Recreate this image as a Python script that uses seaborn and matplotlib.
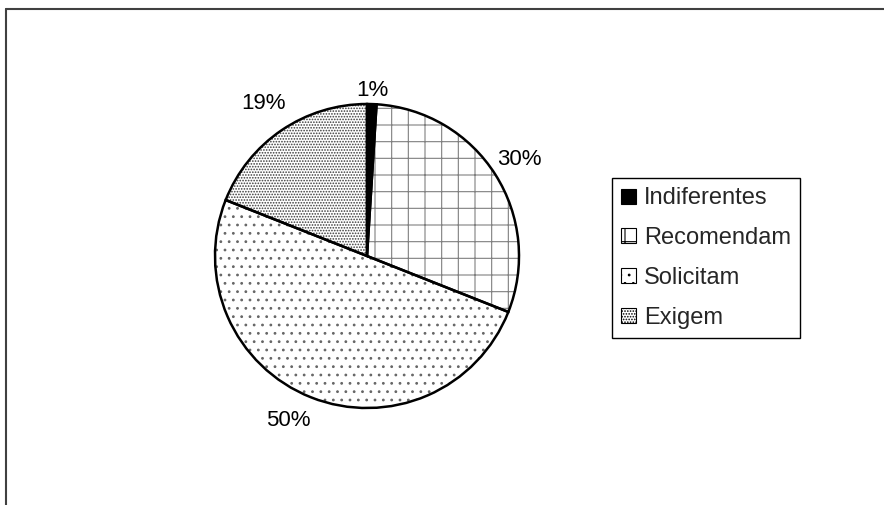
import matplotlib
matplotlib.use('Agg')
import numpy as np
import matplotlib.pyplot as plt
import matplotlib.patches as mpatches
from matplotlib.lines import Line2D
import seaborn as sns

sns.set_theme(style='white')
plt.rcParams['font.family'] = ['Liberation Sans', 'DejaVu Sans']
plt.rcParams['hatch.linewidth'] = 0.8

# data
categories = ['Indiferentes', 'Recomendam', 'Solicitam', 'Exigem']
shares = [1, 30, 50, 19]
pct_labels = ['1%', '30%', '50%', '19%']

# fill styles per slice
faces = ['black', 'white', 'white', 'white']
hatches = ['', '+', '..', '......']
hatch_cols = ['black', '#808080', '#666666', '#3a3a3a']
label_dist = [1.09, 1.19, 1.2, 1.21]    # radial label offsets (layout)
label_turn = [0, 0, -4, 0]              # small angular nudge, degrees

fig = plt.figure(figsize=(8.84, 5.05), dpi=100)
ax = fig.add_axes([0, 0, 1, 1])

center = (367, 249)
radius = 152

# hatched fill pass
wedges, _ = ax.pie(shares, startangle=90, counterclock=False, center=center,
                   radius=radius, frame=True)
for w, fc, h, hc in zip(wedges, faces, hatches, hatch_cols):
    w.set_facecolor(fc)
    w.set_hatch(h)
    w.set_edgecolor(hc)
    w.set_linewidth(0)

# outline pass
outl, _ = ax.pie(shares, startangle=90, counterclock=False,
                 center=center, radius=radius, frame=True,
                 wedgeprops=dict(fill=False, edgecolor='black', linewidth=1.8))

# percent labels placed outside each slice
for w, lab, d, t in zip(wedges, pct_labels, label_dist, label_turn):
    mid = np.deg2rad((w.theta1 + w.theta2) / 2 + t)
    x = center[0] + d * radius * np.cos(mid)
    y = center[1] + d * radius * np.sin(mid)
    ax.text(x, y, lab, ha='center', va='center', fontsize=16, color='black')

ax.set_xlim(0, 884)
ax.set_ylim(0, 505)
ax.axis('off')

# legend proxies
handles = [mpatches.Patch(facecolor=fc, hatch=h, edgecolor='black', linewidth=0.8)
           for fc, h in zip(faces, hatches)]
leg = fig.legend(handles, categories, loc='upper left',
                 bbox_to_anchor=(612 / 884, 1 - 178 / 505),
                 fontsize=17, frameon=True, fancybox=False, framealpha=1,
                 edgecolor='black', handlelength=0.6, handleheight=0.6,
                 handletextpad=0.35, labelspacing=0.75, borderpad=0.4,
                 borderaxespad=0)
leg.get_frame().set_linewidth(1.0)

# outer chart-area frame (top and left edge visible)
fig.add_artist(Line2D([6 / 884, 1.0], [1 - 9 / 505, 1 - 9 / 505],
                      transform=fig.transFigure, color='#404040', linewidth=1.5))
fig.add_artist(Line2D([6 / 884, 6 / 884], [0, 1 - 9 / 505],
                      transform=fig.transFigure, color='#404040', linewidth=1.5))

fig.savefig('out.png', dpi=100, facecolor='white')
